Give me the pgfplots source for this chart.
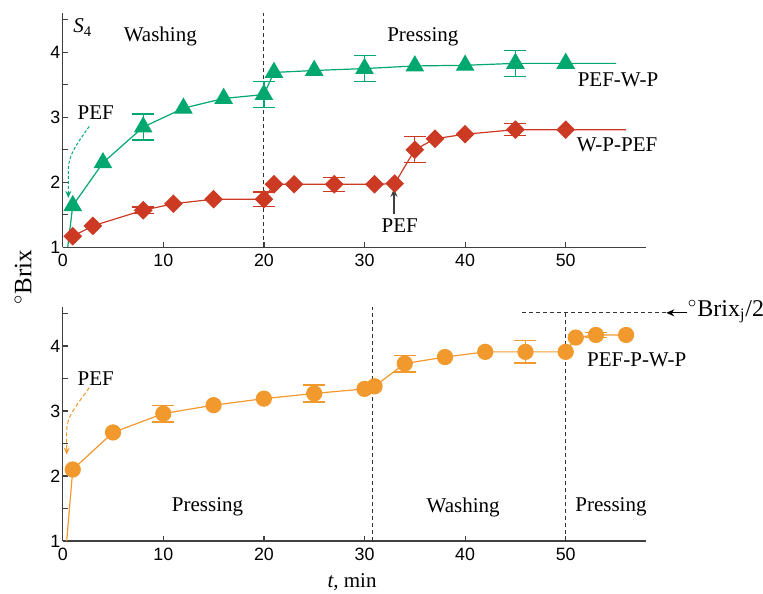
\documentclass[border=0pt]{standalone}
\usepackage{fontspec}
\setmainfont{Liberation Serif}
\setsansfont{Liberation Sans}
\usepackage{pgfplots}
\pgfplotsset{compat=1.18}
\usetikzlibrary{arrows.meta}
\definecolor{cgreen}{RGB}{0,168,112}
\definecolor{cred}{RGB}{204,58,36}
\definecolor{corange}{RGB}{242,153,45}
\newcommand\lbl{\fontsize{10.5}{12}\selectfont}
\tikzset{dline/.style={black!80, line width=0.5pt, dash pattern=on 2pt off 1.5pt}}
\pgfplotsset{
  mystyle/.style={
    scale only axis, width=291.75pt, height=117pt,
    xmin=0, xmax=58, ymin=1, ymax=4.6,
    axis lines=left,
    axis line style={-, line width=0.7pt, draw=black!75},
    tick style={line width=0.6pt, draw=black!75},
    tick align=inside,
    major tick length=2.5pt, minor tick length=2.5pt,
    xtick={0,10,...,50}, ytick={1,2,3,4},
    minor ytick={1.5,2.5,3.5,4.5},
    ticklabel style={font=\sffamily\fontsize{8.9}{10}\selectfont},
    yticklabel style={inner xsep=1pt},
    /pgf/number format/assume math mode=true,
    clip=false,
  },
  ebar/.style={only marks, mark=none, forget plot,
    error bars/.cd, y dir=both, y explicit,
    error bar style={line width=0.6pt, solid},
    error mark options={rotate=90, mark size=5.5pt, line width=0.6pt}},
}
\begin{document}
\begin{tikzpicture}
\path[use as bounding box] (0,0) rectangle (381.5pt,-296.5pt);
% ---------- top panel ----------
\begin{axis}[mystyle, at={(31.35pt,-123.65pt)}, anchor=south west]
\draw[dline] (axis cs:20,1) -- (axis cs:20,4.6);
\addplot[cgreen, ebar] coordinates {(8,2.85) +- (0,0.2) (20,3.35) +- (0,0.2) (30,3.75) +- (0,0.2) (45,3.83) +- (0,0.2)};
\addplot[cred, ebar] coordinates {(8,1.57) +- (0,0.05) (20,1.74) +- (0,0.11) (27,1.97) +- (0,0.11) (35,2.5) +- (0,0.2) (45,2.81) +- (0,0.09)};
\addplot[cgreen, line width=0.6pt, forget plot] coordinates {(0.5,1) (1,1.64)};
\addplot[cgreen, line width=0.6pt, mark=triangle*, mark size=4.8pt, mark indices={1,2,3,4,5,6,7,8,9,10,11,12,13}] coordinates {
(1,1.64) (4,2.30) (8,2.85) (12,3.14) (16,3.29) (20,3.35) (21,3.69) (25,3.72) (30,3.75) (35,3.79) (40,3.80) (45,3.83) (50,3.83) (55,3.83)};
\addplot[cred, line width=0.6pt, mark=square*, mark size=3pt, mark options={rotate=45}, mark indices={1,2,3,4,5,6,7,8,9,10,11,12,13,14,15,16}] coordinates {
(1,1.17) (3,1.33) (8,1.57) (11,1.67) (15,1.74) (20,1.74) (21,1.97) (23,1.97) (27,1.97) (31,1.97) (33,1.98) (35,2.5) (37,2.67) (40,2.74) (45,2.81) (50,2.81) (56,2.81)};
\node[font=\lbl] at (axis cs:2.0,4.38) {\textit{S}\textsubscript{4}};
\node[font=\lbl] at (axis cs:9.7,4.24) {Washing};
\node[font=\lbl] at (axis cs:35.8,4.24) {Pressing};
\node[font=\lbl] at (axis cs:3.28,3.07) {PEF};
\node[font=\lbl] at (axis cs:55.2,3.58) {PEF-W-P};
\node[font=\lbl] at (axis cs:55.1,2.57) {W-P-PEF};
\node[font=\lbl] at (axis cs:33.5,1.34) {PEF};
\draw[cgreen, line width=0.5pt, dash pattern=on 1.5pt off 1pt, -{Stealth[length=3.5pt, width=3pt]}]
  (axis cs:2.64,2.86) .. controls (axis cs:1.2,2.55) and (axis cs:0.56,2.4) .. (axis cs:0.56,2.19) -- (axis cs:0.56,1.76);
\draw[black!75, line width=0.6pt, -{Stealth[length=4pt, width=3.5pt]}] (axis cs:32.93,1.52) -- (axis cs:32.93,1.9);
\end{axis}
% ---------- bottom panel ----------
\begin{axis}[mystyle, at={(31.35pt,-270.5pt)}, anchor=south west]
\draw[dline] (axis cs:30.8,1) -- (axis cs:30.8,4.6);
\draw[dline] (axis cs:50,1) -- (axis cs:50,4.51);
\draw[dline] (axis cs:45.7,4.51) -- (axis cs:60,4.51);
\draw[black, line width=0.6pt, -{Stealth[length=4pt, width=3.5pt]}] (axis cs:62.1,4.51) -- (axis cs:60,4.51);
\node[font=\fontsize{12}{14}\selectfont, anchor=west, inner sep=0pt] at (axis cs:62.1,4.53) {$^{\circ}$Brix\textsubscript{j}/2};
\addplot[corange, ebar] coordinates {(10,2.96) +- (0,0.13) (25,3.27) +- (0,0.13) (34,3.73) +- (0,0.13) (46,3.91) +- (0,0.17) (53,4.17) +- (0,0.04)};
\addplot[corange, line width=0.6pt, forget plot] coordinates {(0.4,1) (1,2.1)};
\addplot[corange, line width=0.6pt, mark=*, mark size=3.75pt] coordinates {
(1,2.1) (5,2.67) (10,2.96) (15,3.09) (20,3.19) (25,3.27) (30,3.34) (31,3.38) (34,3.73) (38,3.83) (42,3.91) (46,3.91) (50,3.91) (51,4.13) (53,4.17) (56,4.17)};
\node[font=\lbl] at (axis cs:3.28,3.5) {PEF};
\node[font=\lbl] at (axis cs:14.4,1.52) {Pressing};
\node[font=\lbl] at (axis cs:39.8,1.52) {Washing};
\node[font=\lbl] at (axis cs:54.5,1.52) {Pressing};
\node[font=\lbl] at (axis cs:57.06,3.79) {PEF-P-W-P};
\draw[corange, line width=0.5pt, dash pattern=on 2pt off 1.2pt, -{Stealth[length=3.5pt, width=3pt]}]
  (axis cs:2.64,3.36) .. controls (axis cs:1.2,3.05) and (axis cs:0.4,2.9) .. (axis cs:0.4,2.71) -- (axis cs:0.4,2.33);
\end{axis}
\node[font=\fontsize{12.5}{14}\selectfont, rotate=90] at (11.5pt,-138.5pt) {$^{\circ}$Brix};
\node[font=\lbl] at (176pt,-291pt) {\textit{t}, min};
\end{tikzpicture}
\end{document}
